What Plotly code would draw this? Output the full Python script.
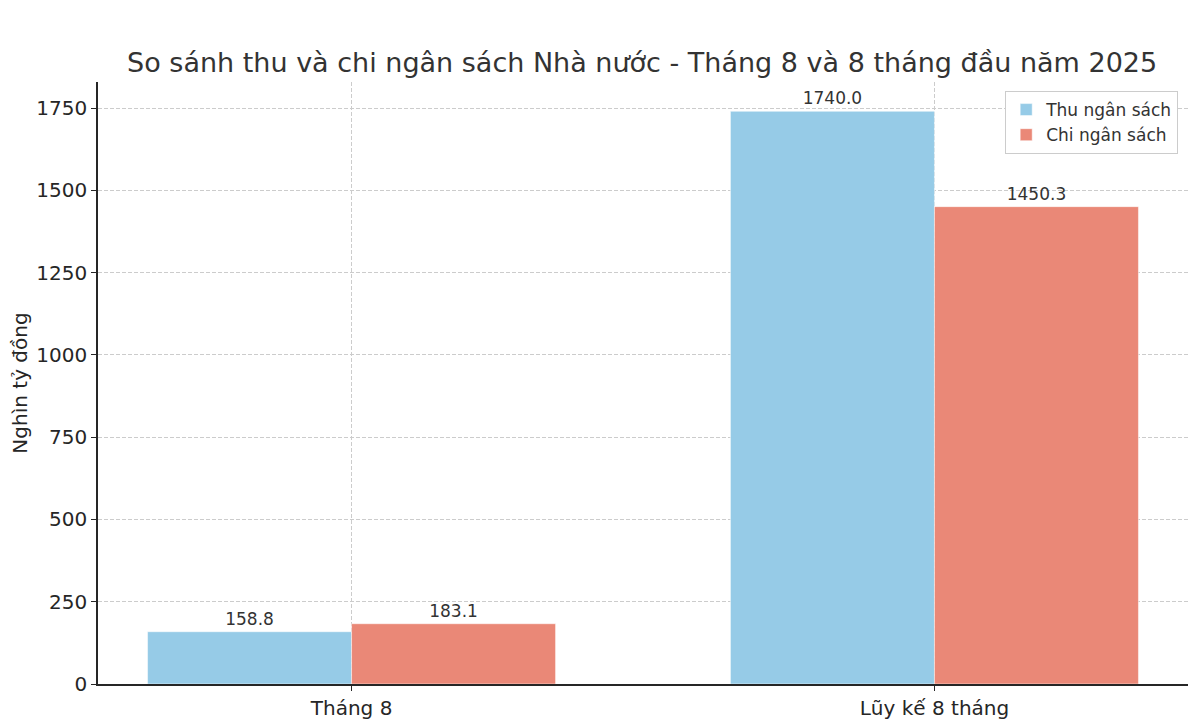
import plotly.graph_objects as go

categories = ["Tháng 8", "Lũy kế 8 tháng"]
thu_values = [158.8, 1740.0]
chi_values = [183.1, 1450.3]
y_ticks = [0, 250, 500, 750, 1000, 1250, 1500, 1750]

font_family = "DejaVu Sans"
x_pos = list(range(len(categories)))

fig = go.Figure()

fig.add_trace(
    go.Bar(
        x=[p - 0.175 for p in x_pos],
        y=thu_values,
        width=0.35,
        name="Thu ngân sách",
        marker={"color": "#96CBE7", "line": {"color": "#ffffff", "width": 0.5}},
        text=[f"{v:.1f}" for v in thu_values],
        textposition="outside",
        textfont={"size": 17, "color": "#333333"},
        cliponaxis=False,
    )
)
fig.add_trace(
    go.Bar(
        x=[p + 0.175 for p in x_pos],
        y=chi_values,
        width=0.35,
        name="Chi ngân sách",
        marker={"color": "#EA8877", "line": {"color": "#ffffff", "width": 0.5}},
        text=[f"{v:.1f}" for v in chi_values],
        textposition="outside",
        textfont={"size": 17, "color": "#333333"},
        cliponaxis=False,
    )
)

# the page body adds 8px around the figure, so the figure is a little smaller
fig.update_layout(
    width=1192,
    height=711,
    barmode="overlay",
    plot_bgcolor="white",
    paper_bgcolor="white",
    margin={"l": 90, "r": 12, "t": 74, "b": 35, "autoexpand": False},
    font={"family": font_family, "size": 20, "color": "#262626"},
    title={
        "text": "So sánh thu và chi ngân sách Nhà nước - Tháng 8 và 8 tháng đầu năm 2025",
        "x": 0.532,
        "xanchor": "center",
        "y": 0.923,
        "yanchor": "middle",
        "font": {"family": font_family, "size": 27, "color": "#333333"},
    },
    legend={
        "x": 0.991,
        "xanchor": "right",
        "y": 0.985,
        "yanchor": "top",
        "bgcolor": "white",
        "bordercolor": "#cccccc",
        "borderwidth": 1,
        "font": {"size": 17, "color": "#333333"},
    },
    showlegend=True,
)

fig.update_xaxes(
    tickvals=x_pos,
    ticktext=categories,
    range=[-0.435, 1.435],
    showline=True,
    linecolor="#262626",
    linewidth=1.5,
    ticks="outside",
    ticklen=5,
    tickcolor="#262626",
    showgrid=True,
    gridcolor="#cccccc",
    griddash="4px,2px",
    gridwidth=1,
    zeroline=False,
    tickfont={"size": 20},
)

fig.update_yaxes(
    title={"text": "Nghìn tỷ đồng", "font": {"size": 20}, "standoff": 8},
    tickvals=y_ticks,
    range=[0, 1829],
    showline=True,
    linecolor="#262626",
    linewidth=1.5,
    ticks="outside",
    ticklen=5,
    tickcolor="#262626",
    showgrid=True,
    gridcolor="#cccccc",
    griddash="4px,2px",
    gridwidth=1,
    zeroline=False,
    tickfont={"size": 20},
)

fig.write_html("out.html")
